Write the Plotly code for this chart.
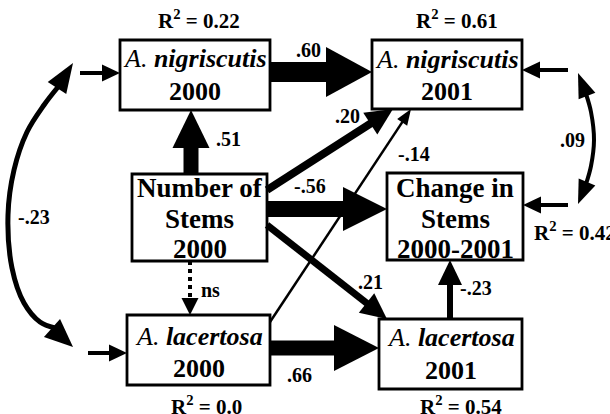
import math
import plotly.graph_objects as go

# ---------------- data ----------------
node_ids = ["nig00", "nig01", "stems", "chg", "lac00", "lac01"]
node_line1 = ["<i>A.</i> <b><i>nigriscutis</i></b>", "<i>A.</i> <b><i>nigriscutis</i></b>",
              "<b>Number of</b>", "<b>Change in</b>",
              "<i>A.</i> <b><i>lacertosa</i></b>", "<i>A.</i> <b><i>lacertosa</i></b>"]
node_line2 = ["<b>2000</b>", "<b>2001</b>", "<b>Stems</b>", "<b>Stems</b>", "<b>2000</b>", "<b>2001</b>"]
node_line3 = ["", "", "<b>2000</b>", "<b>2000-2001</b>", "", ""]

r2_nodes = ["nig00", "nig01", "chg", "lac00", "lac01"]
r2_values = ["0.22", "0.61", "0.42", "0.0", "0.54"]

path_from = ["nig00", "stems", "stems", "stems", "lac00", "stems", "lac00", "lac01", "stems"]
path_to = ["nig01", "nig00", "chg", "nig01", "nig01", "lac01", "lac01", "chg", "lac00"]
path_coef = [".60", ".51", "-.56", ".20", "-.14", ".21", ".66", "-.23", "ns"]

corr_a = ["nig00", "nig01"]
corr_b = ["lac00", "chg"]
corr_coef = ["-.23", ".09"]

residual_nodes = ["nig00", "lac00", "nig01", "chg"]

# ---------------- layout / style ----------------
W, H = 610, 414
FONT = "Liberation Serif, Times New Roman, serif"
BOX = {
    "nig00": (120, 40, 270, 110),
    "nig01": (372, 40, 522, 109),
    "stems": (132, 174, 267, 261),
    "chg": (387, 173, 523, 260),
    "lac00": (127, 315, 270, 385),
    "lac01": (379, 319, 522, 389),
}
LINE_Y = {
    "nig00": [58, 91], "nig01": [59, 91],
    "stems": [188, 219, 249], "chg": [188, 219, 249],
    "lac00": [336, 368], "lac01": [337, 370],
}
NODE_FONT = {"nig00": 26, "nig01": 26, "lac00": 26, "lac01": 26, "stems": 27, "chg": 27}
LABEL_SIZE = 20
R2_SIZE = 21


def port(node, side, pos):
    x0, y0, x1, y1 = BOX[node]
    return {"l": (x0, pos), "r": (x1, pos), "t": (pos, y0), "b": (pos, y1)}[side]


# (from-port, to-port, shaft width, head length, head width, dash)
EDGE_STYLE = [
    (("r", 72), ("l", 72), 20, 46, 50, None),
    (("t", 191), ("b", 191), 15, 38, 37, None),
    (("r", 209), ("l", 209), 16, 44, 44, None),
    (("r", 190), ("b", 393), 8, 27, 26, None),
    (("r", 322), ("b", 411), 2.5, 16, 12, None),
    (("r", 225), ("t", 387), 7, 26, 25, None),
    (("r", 348), ("l", 348), 15, 45, 46, None),
    (("t", 450), ("b", 450), 6, 25, 24, None),
    (("b", 190), ("t", 190), 4, 17, 17, "dot"),
]
EDGE_LABEL_POS = [(308, 50), (228, 139), (310, 186), (347, 116), (414, 154),
                  (370, 282), (299, 375), (476, 288), (210, 290)]

RESID_STYLE = {"nig00": ("l", 73, -40), "lac00": ("l", 353, -39),
               "nig01": ("r", 70, 46), "chg": ("r", 205, 45)}

R2_POS = {"nig00": (199, 19, "center"), "nig01": (457, 19, "center"),
          "chg": (532, 231, "left"), "lac00": (206, 405, "center"),
          "lac01": (461, 405, "center")}

CORR_CURVE = [
    dict(pts=[(58, 87), (44, 105), (27, 132), (14, 170), (8, 215), (12, 268),
              (24, 303), (40, 322), (55, 328)],
         heads=[((73, 63), (57, 88)), ((73, 347), (52, 328))], width=5, hl=(22, 24)),
    dict(pts=[(586, 94), (591, 112), (594, 140), (591, 166), (586, 184)],
         heads=[((578, 73), (587, 96)), ((578, 204), (587, 182))], width=4, hl=(18, 18)),
]
CORR_LABEL_POS = [(34, 217), (572, 140)]

shapes = []
annotations = []


def tri(T, B, hw):
    ux, uy = T[0] - B[0], T[1] - B[1]
    d = math.hypot(ux, uy)
    nx, ny = -uy / d, ux / d
    p1 = (B[0] + nx * hw / 2, B[1] + ny * hw / 2)
    p2 = (B[0] - nx * hw / 2, B[1] - ny * hw / 2)
    return dict(type="path", xref="x", yref="y",
                path=f"M {T[0]},{T[1]} L {p1[0]},{p1[1]} L {p2[0]},{p2[1]} Z",
                fillcolor="black", line=dict(width=0), layer="above")


def arrow(S, T, w, L, hw, dash=None):
    dx, dy = T[0] - S[0], T[1] - S[1]
    d = math.hypot(dx, dy)
    ux, uy = dx / d, dy / d
    B = (T[0] - L * ux, T[1] - L * uy)
    ext = 0 if dash else 2
    shapes.append(dict(type="line", xref="x", yref="y", x0=S[0], y0=S[1],
                       x1=B[0] + ext * ux, y1=B[1] + ext * uy,
                       line=dict(color="black", width=w, dash=dash or "solid"), layer="above"))
    shapes.append(tri(T, B, hw))


# boxes
for nid in node_ids:
    x0, y0, x1, y1 = BOX[nid]
    shapes.append(dict(type="rect", xref="x", yref="y", x0=x0, y0=y0, x1=x1, y1=y1,
                       line=dict(color="black", width=2.8), fillcolor="rgba(0,0,0,0)", layer="above"))

# directed paths
for f, t, coef, st, lp in zip(path_from, path_to, path_coef, EDGE_STYLE, EDGE_LABEL_POS):
    (s_side, s_pos), (t_side, t_pos), w, L, hw, dash = st
    arrow(port(f, s_side, s_pos), port(t, t_side, t_pos), w, L, hw, dash)
    annotations.append(dict(x=lp[0], y=lp[1], text=f"<b>{coef}</b>", showarrow=False,
                            xref="x", yref="y", xanchor="center", yanchor="middle",
                            font=dict(family=FONT, size=LABEL_SIZE, color="black")))

# residual arrows
for nid in residual_nodes:
    side, pos, off = RESID_STYLE[nid]
    T = port(nid, side, pos)
    arrow((T[0] + off, T[1]), T, 4, 18, 17)

# correlation curves
traces = []
for a, b, coef, cv, lp in zip(corr_a, corr_b, corr_coef, CORR_CURVE, CORR_LABEL_POS):
    xs = [p[0] for p in cv["pts"]]
    ys = [p[1] for p in cv["pts"]]
    traces.append(go.Scatter(x=xs, y=ys, mode="lines", line=dict(color="black", width=cv["width"],
                                                                 shape="spline"),
                             hoverinfo="skip", showlegend=False))
    for (T, B), hw in zip(cv["heads"], cv["hl"]):
        shapes.append(tri(T, B, hw))
    annotations.append(dict(x=lp[0], y=lp[1], text=f"<b>{coef}</b>", showarrow=False,
                            xref="x", yref="y", xanchor="center", yanchor="middle",
                            font=dict(family=FONT, size=LABEL_SIZE, color="black")))

# node texts
for nid, l1, l2, l3 in zip(node_ids, node_line1, node_line2, node_line3):
    x0, y0, x1, y1 = BOX[nid]
    cx = (x0 + x1) / 2
    for txt, yy in zip([l1, l2, l3], LINE_Y[nid]):
        if not txt:
            continue
        annotations.append(dict(x=cx, y=yy, text=txt, showarrow=False, xref="x", yref="y",
                                xanchor="center", yanchor="middle",
                                font=dict(family=FONT, size=NODE_FONT[nid], color="black")))

# R2 labels
for nid, val in zip(r2_nodes, r2_values):
    x, y, anc = R2_POS[nid]
    annotations.append(dict(x=x, y=y, text=f"<b>R<sup>2</sup> = {val}</b>", showarrow=False,
                            xref="x", yref="y", xanchor=anc, yanchor="middle",
                            font=dict(family=FONT, size=R2_SIZE, color="black")))

fig = go.Figure(data=traces)
fig.update_layout(
    width=W, height=H, autosize=False,
    margin=dict(l=0, r=0, t=0, b=0),
    paper_bgcolor="white", plot_bgcolor="white",
    xaxis=dict(range=[0, W], visible=False, fixedrange=True),
    yaxis=dict(range=[H, 0], visible=False, fixedrange=True),
    shapes=shapes, annotations=annotations, showlegend=False,
)
fig.write_html("out.html", config={"displayModeBar": False},
               post_script="document.body.style.margin='0';document.body.style.overflow='hidden';")
